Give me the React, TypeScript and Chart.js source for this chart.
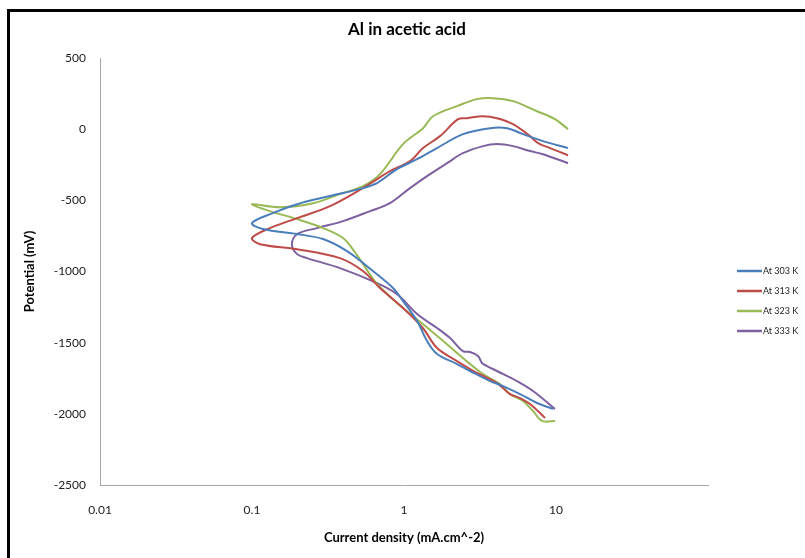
import React, { useEffect, useRef } from "react";
import { Chart, registerables } from "chart.js";

Chart.register(...registerables);

const title = "Al in acetic acid";
const xTitle = "Current density (mA.cm^-2)";
const yTitle = "Potential (mV)";
const seriesNames = ["At 303 K", "At 313 K", "At 323 K", "At 333 K"];
const seriesColors = ["#4A7EBB", "#BE4B48", "#98B954", "#7D60A0"];
const xTickLabels = [0.01, 0.1, 1, 10];
const yTickValues = [500, 0, -500, -1000, -1500, -2000, -2500];

// current density (mA/cm2) and potential (mV), cathodic end -> tip -> anodic end
const x303 = [9.55, 7.5, 5.8, 4.48, 3.68, 2.72, 2.23, 1.65, 1.42, 1.22, 0.985, 0.847, 0.625, 0.422, 0.293, 0.198, 0.118, 0.1,
  0.137, 0.198, 0.326, 0.537, 0.664, 0.899, 1.218, 1.648, 2.444, 3.68, 4.76, 6.07, 8.21, 12.0];
const y303 = [-1966, -1924, -1861, -1805, -1770, -1699, -1650, -1580, -1489, -1348, -1208, -1116, -997, -857, -772, -737, -702, -660,
  -590, -527, -470, -414, -379, -281, -211, -133, -35, 7, 7, -35, -84, -133];

const x313 = [8.47, 6.75, 5.8, 4.98, 4.09, 3.02, 2.23, 1.65, 1.33, 0.985, 0.695, 0.537, 0.379, 0.198, 0.113, 0.1,
  0.131, 0.198, 0.326, 0.537, 0.809, 1.095, 1.334, 1.725, 2.27, 2.6, 3.31, 4.09, 5.21, 6.75, 7.62, 9.13, 12.0];
const y313 = [-2029, -1931, -1889, -1861, -1784, -1713, -1629, -1538, -1397, -1257, -1116, -997, -906, -843, -808, -765,
  -695, -625, -541, -414, -295, -225, -133, -49, 70, 77, 91, 77, 35, -49, -98, -133, -183];

const x323 = [9.85, 8.09, 7.06, 6.07, 4.98, 4.28, 3.31, 2.44, 1.81, 1.33, 0.985, 0.664, 0.55, 0.47, 0.397, 0.293, 0.198, 0.131, 0.1,
  0.153, 0.252, 0.379, 0.537, 0.695, 0.985, 1.334, 1.55, 2.23, 3.02, 3.85, 5.21, 7.5, 9.85, 12.0];
const y323 = [-2050, -2050, -1980, -1910, -1861, -1791, -1720, -1608, -1489, -1369, -1257, -1088, -962, -857, -765, -695, -632, -576, -527,
  -548, -520, -456, -400, -316, -105, 7, 91, 162, 211, 218, 197, 126, 70, 0];

const x333 = [9.85, 7.06, 5.54, 4.09, 3.52, 3.26, 3.07, 2.72, 2.44, 2.01, 1.65, 1.22, 0.899, 0.664, 0.379, 0.23, 0.198, 0.183,
  0.198, 0.268, 0.397, 0.598, 0.809, 1.095, 1.483, 1.918, 2.44, 3.31, 4.09, 5.21, 6.75, 8.21, 12.0];
const y333 = [-1966, -1840, -1770, -1699, -1664, -1643, -1594, -1566, -1559, -1468, -1397, -1299, -1159, -1081, -976, -906, -878, -808,
  -737, -695, -646, -576, -520, -414, -316, -239, -169, -119, -105, -119, -154, -176, -239];

const seriesX = [x303, x313, x323, x333];
const seriesY = [y303, y313, y323, y333];

const FONT = "Lato, 'Open Sans', sans-serif";

const decorPlugin = {
  id: "decor",
  afterDraw(chart: any) {
    const ctx = chart.ctx;
    ctx.save();
    ctx.fillStyle = "#000";
    ctx.font = "bold 17px " + FONT;
    ctx.textAlign = "center";
    ctx.textBaseline = "middle";
    ctx.fillText(title, 407, 30);
    chart.data.datasets.forEach((ds: any, i: number) => {
      const y = 271 + i * 20;
      ctx.strokeStyle = ds.borderColor;
      ctx.lineWidth = 2.5;
      ctx.beginPath();
      ctx.moveTo(737, y);
      ctx.lineTo(762, y);
      ctx.stroke();
      ctx.fillStyle = "#222";
      ctx.font = "9px " + FONT;
      ctx.textBaseline = "middle";
      ctx.textAlign = "left";
      ctx.fillText(ds.label, 763, y + 0.5);
    });
    ctx.restore();
  },
};

export default function App() {
  const ref = useRef<HTMLCanvasElement>(null);
  useEffect(() => {
    if (!ref.current) return;
    const datasets = seriesNames.map((name, i) => ({
      label: name,
      data: seriesX[i].map((x, j) => ({ x, y: seriesY[i][j] })),
      borderColor: seriesColors[i],
      backgroundColor: seriesColors[i],
      borderWidth: 2,
      pointRadius: 0,
      showLine: true,
      tension: 0.35,
      fill: false,
    }));
    const chart = new Chart(ref.current, {
      type: "scatter",
      data: { datasets },
      plugins: [decorPlugin],
      options: {
        animation: false,
        responsive: false,
        layout: { padding: { left: 0, right: 97, top: 58, bottom: 0 } },
        plugins: {
          legend: { display: false },
          tooltip: { enabled: false },
          title: { display: false },
        },
        scales: {
          x: {
            type: "logarithmic",
            min: 0.01,
            max: 100,
            grid: { display: false },
            border: { display: true, color: "#A6A6A6", width: 1 },
            afterBuildTicks: (scale: any) => {
              scale.ticks = xTickLabels.map((v) => ({ value: v }));
            },
            afterFit: (scale: any) => {
              scale.height = 73;
            },
            ticks: {
              autoSkip: false,
              maxRotation: 0,
              padding: 10,
              color: "#222",
              font: { family: FONT, size: 12 },
              callback: (v: any) => String(v),
            },
            title: {
              display: true,
              text: xTitle,
              color: "#000",
              font: { family: FONT, size: 13, weight: "bold" },
              padding: { top: 0, bottom: 12 },
            },
          },
          y: {
            min: -2500,
            max: 500,
            grid: { display: false },
            border: { display: true, color: "#A6A6A6", width: 1 },
            afterBuildTicks: (scale: any) => {
              scale.ticks = yTickValues.map((v) => ({ value: v }));
            },
            afterFit: (scale: any) => {
              scale.width = 100;
            },
            ticks: {
              padding: 6,
              color: "#222",
              font: { family: FONT, size: 12 },
              callback: (v: any) => String(v),
            },
            title: {
              display: true,
              text: yTitle,
              color: "#000",
              font: { family: FONT, size: 13, weight: "bold" },
              padding: { top: 22, bottom: 0 },
            },
          },
        },
      },
    } as any);
    return () => chart.destroy();
  }, []);
  return (
    <div>
      <div
        style={{
          position: "fixed",
          left: 7,
          top: 9,
          width: 900,
          height: 700,
          borderLeft: "3px solid #000",
          borderTop: "3px solid #000",
          background: "#fff",
        }}
      />
      <canvas
        ref={ref}
        width={805}
        height={558}
        style={{ position: "fixed", left: 0, top: 0, width: 805, height: 558 }}
      />
    </div>
  );
}
